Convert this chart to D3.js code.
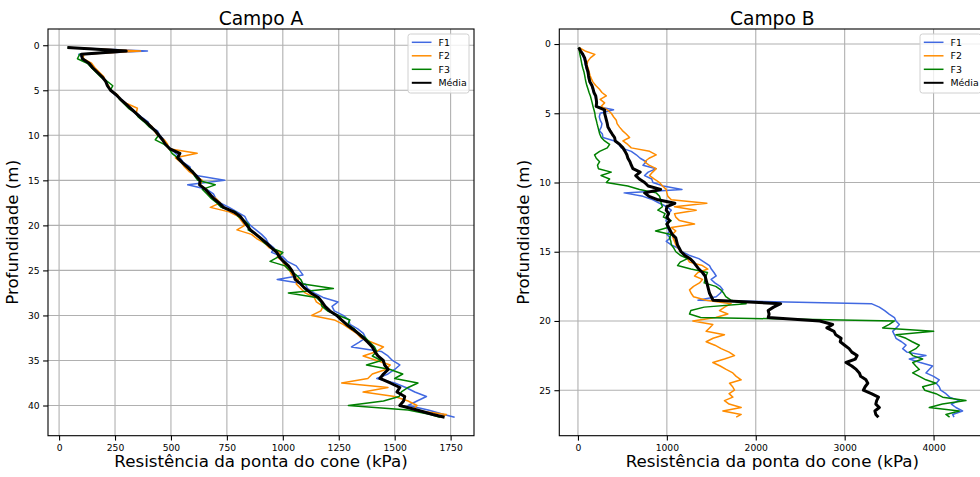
<!DOCTYPE html>
<html><head><meta charset="utf-8">
<script src="https://cdn.jsdelivr.net/npm/d3@7"></script>
<style>body{margin:0;background:#fff} svg{display:block} text{font-family:"DejaVu Sans",sans-serif;fill:#000}</style>
</head><body><svg id="c" width="980" height="477"></svg>
<script>
// ---------- Campo A ----------
const depthA = [
  0.25, 0.65, 1, 1.5, 2, 2.5, 3, 3.5, 4, 4.5,
  5, 5.5, 6, 6.5, 7, 7.5, 8, 8.5, 9, 9.5,
  10, 10.5, 11, 11.5, 12, 12.5, 13, 13.5, 14, 14.5,
  15, 15.5, 16, 16.5, 17, 17.5, 18, 18.5, 19, 19.5,
  20, 20.5, 21, 21.5, 22, 22.5, 23, 23.5, 24, 24.5,
  25, 25.5, 26, 26.5, 27, 27.5, 28, 28.5, 29, 29.5,
  30, 30.5, 31, 31.5, 32, 32.5, 33, 33.5, 34, 34.5,
  35, 35.5, 36, 36.5, 37, 37.5, 38, 38.5, 39, 39.5,
  40, 40.5, 41, 41.3];
const f1A = [
  40, 395, 88, 108, 138, 146, 175, 190, 212, 220,
  232, 250, 278, 300, 318, 345, 370, 398, 405, 440,
  450, 470, 472, 500, 520, 540, 555, 585, 590, 620,
  740, 575, 660, 690, 700, 720, 760, 795, 830, 840,
  855, 880, 905, 925, 935, 960, 950, 1000, 1020, 1060,
  1075, 1090, 975, 1100, 1110, 1140, 1180, 1247, 1220, 1230,
  1270, 1295, 1300, 1335, 1360, 1370, 1340, 1307, 1440, 1470,
  1490, 1523, 1500, 1470, 1420, 1500, 1550, 1590, 1642, 1600,
  1560, 1650, 1720, 1768];
const f2A = [
  42, 364, 110, 108, 145, 160, 180, 200, 205, 222,
  228, 262, 272, 305, 350, 345, 360, 385, 415, 425,
  440, 470, 485, 490, 617, 520, 545, 560, 580, 610,
  640, 630, 660, 665, 700, 720, 676, 760, 800, 815,
  830, 795, 860, 885, 920, 940, 990, 975, 1000, 1010,
  1030, 1040, 1070, 1060, 1080, 1100, 1140, 1150, 1180, 1170,
  1129, 1230, 1270, 1300, 1330, 1350, 1400, 1450, 1420, 1359,
  1420, 1480, 1460, 1400, 1380, 1263, 1470, 1359, 1500, 1560,
  1600, 1580, 1731, 1700];
const f3A = [
  38, 290, 92, 82, 126, 145, 165, 185, 215, 240,
  228, 258, 270, 290, 310, 340, 355, 380, 400, 428,
  445, 430, 470, 492, 505, 530, 548, 575, 598, 605,
  620, 698, 640, 660, 680, 705, 725, 790, 800, 830,
  850, 845, 880, 900, 920, 950, 1000, 980, 943, 1010,
  1030, 1060, 1080, 1090, 1226, 1025, 1150, 1170, 1175, 1200,
  1250, 1300, 1290, 1320, 1340, 1370, 1390, 1410, 1420, 1400,
  1440, 1374, 1480, 1536, 1500, 1604, 1560, 1530, 1520, 1450,
  1293, 1560, 1660, 1702];
const mediaA = [
  37, 300, 100, 104, 134, 150, 171, 192, 208, 216,
  230, 255, 275, 298, 320, 342, 364, 388, 409, 430,
  446, 462, 475, 495, 540, 530, 550, 572, 594, 612,
  630, 628, 654, 672, 690, 715, 735, 780, 810, 825,
  840, 855, 880, 905, 929, 950, 973, 985, 1003, 1025,
  1040, 1050, 1055, 1080, 1099, 1125, 1159, 1175, 1189, 1210,
  1241, 1262, 1285, 1312, 1337, 1360, 1381, 1400, 1411, 1425,
  1449, 1455, 1471, 1450, 1434, 1480, 1523, 1510, 1545, 1540,
  1523, 1600, 1671, 1723];
const xTicksA = [0, 250, 500, 750, 1000, 1250, 1500, 1750];
const yTicksA = [0, 5, 10, 15, 20, 25, 30, 35, 40];

// ---------- Campo B ----------
const depthB = [
  0.25, 0.5, 0.75, 1, 1.25, 1.5, 1.75, 2,
  2.25, 2.5, 2.75, 3, 3.25, 3.5, 3.75, 4,
  4.25, 4.5, 4.75, 5, 5.25, 5.5, 5.75, 6,
  6.25, 6.5, 6.75, 7, 7.25, 7.5, 7.75, 8,
  8.25, 8.5, 8.75, 9, 9.25, 9.5, 9.75, 10,
  10.25, 10.5, 10.75, 11, 11.25, 11.5, 11.75, 12,
  12.25, 12.5, 12.75, 13, 13.25, 13.5, 13.75, 14,
  14.25, 14.5, 14.75, 15, 15.25, 15.5, 15.75, 16,
  16.25, 16.5, 16.75, 17, 17.25, 17.5, 17.75, 18,
  18.25, 18.5, 18.75, 19, 19.25, 19.5, 19.75, 20,
  20.25, 20.5, 20.75, 21, 21.25, 21.5, 21.75, 22,
  22.25, 22.5, 22.75, 23, 23.25, 23.5, 23.75, 24,
  24.25, 24.5, 24.75, 25, 25.25, 25.5, 25.75, 26,
  26.25, 26.5, 26.75, 26.95];
const f1B = [
  8, 25, 45, 65, 75, 82, 95, 105,
  112, 120, 130, 150, 165, 175, 195, 200,
  215, 200, 400, 250, 240, 250, 270, 262,
  240, 275, 281, 412, 460, 487, 600, 656,
  700, 768, 731, 880, 790, 749, 830, 843,
  960, 1170, 520, 731, 843, 918, 1000, 1049,
  1020, 1000, 990, 1010, 1000, 1030, 1000, 1040,
  993, 1050, 1130, 1170, 1250, 1360, 1420, 1480,
  1500, 1530, 1555, 1498, 1540, 1600, 1630, 1600,
  1555, 1350, 3300, 3390, 3450, 3500, 3560, 3577,
  3615, 3580, 3540, 3560, 3577, 3640, 3690, 3652,
  3700, 3914, 3727, 3850, 3989, 3950, 3914, 4000,
  4064, 4030, 4064, 4080, 4139, 4180, 4289, 4200,
  4251, 4326, 4214, 4230];
const f2B = [
  10, 80, 190, 140, 110, 101, 115, 125,
  135, 150, 170, 200, 240, 270, 319, 250,
  300, 262, 330, 375, 400, 431, 440, 468,
  500, 543, 581, 506, 560, 600, 806, 880,
  800, 749, 800, 880, 840, 806, 860, 918,
  950, 993, 1000, 1011, 1050, 1450, 1086, 1330,
  1086, 1100, 1142, 1311, 1049, 1100, 1060, 1070,
  1086, 1100, 1130, 1161, 1200, 1230, 1255, 1400,
  1461, 1350, 1311, 1400, 1367, 1300, 1255, 1273,
  1300, 1442, 1723, 1650, 1592, 1686, 1550, 1292,
  1517, 1480, 1442, 1648, 1520, 1442, 1540, 1611,
  1700, 1761, 1648, 1517, 1600, 1667, 1742, 1780,
  1836, 1705, 1740, 1761, 1700, 1742, 1648, 1700,
  1836, 1630, 1836, 1780];
const f3B = [
  10, 15, 22, 30, 38, 45, 55, 67,
  75, 82, 90, 100, 113, 125, 140, 150,
  160, 169, 180, 190, 195, 206, 215, 225,
  235, 245, 262, 300, 356, 330, 244, 187,
  206, 244, 220, 230, 375, 260, 356, 319,
  560, 693, 880, 918, 930, 936, 950, 899,
  980, 961, 1049, 993, 1011, 873, 1045, 1030,
  1045, 1050, 1080, 1101, 1150, 1232, 1150, 1120,
  1270, 1457, 1440, 1430, 1420, 1550, 1607, 1640,
  1663, 1720, 1892, 1420, 1270, 1255, 1380, 3560,
  3502, 3427, 4000, 3577, 3690, 3760, 3840, 3800,
  3727, 3765, 3877, 3765, 3800, 3840, 3765, 3840,
  3914, 4027, 3877, 3900, 4027, 4102, 4364, 4100,
  3952, 4289, 4139, 4180];
const mediaB = [
  8, 30, 55, 75, 85, 92, 100, 113,
  118, 125, 135, 158, 170, 180, 200, 206,
  210, 205, 300, 300, 310, 320, 330, 337,
  360, 385, 412, 420, 470, 506, 530, 550,
  562, 585, 600, 618, 700, 650, 690, 750,
  790, 930, 750, 800, 900, 1090, 1000, 993,
  1020, 1000, 1030, 1000, 1020, 1040, 1060, 1100,
  1110, 1120, 1140, 1160, 1200, 1260, 1300, 1330,
  1360, 1400, 1430, 1440, 1450, 1460, 1470, 1480,
  1500, 1520, 2280, 2200, 2140, 2150, 2140, 2720,
  2865, 2800, 2880, 2900, 2960, 2950, 3000, 3050,
  3080, 3140, 3120, 3015, 3080, 3130, 3165, 3180,
  3240, 3260, 3230, 3210, 3300, 3380, 3360, 3350,
  3390, 3340, 3350, 3380];
const xTicksB = [0, 1000, 2000, 3000, 4000];
const yTicksB = [0, 5, 10, 15, 20, 25];

const seriesNames = ["F1", "F2", "F3", "Média"];
const seriesColors = ["#4169e1", "#ff8c00", "#008000", "#000000"];
const seriesWidths = [1.5, 1.5, 1.5, 3];
const panelTitles = ["Campo A", "Campo B"];
const xLabel = "Resistência da ponta do cone (kPa)";
const yLabel = "Profundidade (m)";

const svg = d3.select("#c");
svg.append("rect").attr("width", 980).attr("height", 477).attr("fill", "#fff");

const AX_W = 426, AX_TOP = 29, AX_BOT = 435.7;

function padded(ext) { const s = ext[1] - ext[0]; return [ext[0] - 0.05 * s, ext[1] + 0.05 * s]; }

function panel(idx, x0, depth, series, xTicks, yTicks, legendX) {
  const all = series.flat();
  const x = d3.scaleLinear().domain(padded(d3.extent(all))).range([x0, x0 + AX_W]);
  const y = d3.scaleLinear().domain(padded(d3.extent(depth))).range([AX_TOP, AX_BOT]);
  const g = svg.append("g");
  const clipId = "clip" + idx;
  svg.append("clipPath").attr("id", clipId).append("rect")
    .attr("x", x0).attr("y", AX_TOP).attr("width", AX_W).attr("height", AX_BOT - AX_TOP);

  // grid
  const grid = g.append("g").attr("stroke", "#b0b0b0").attr("stroke-width", 1.1);
  xTicks.forEach(t => grid.append("line").attr("x1", x(t)).attr("x2", x(t)).attr("y1", AX_TOP).attr("y2", AX_BOT));
  yTicks.forEach(t => grid.append("line").attr("y1", y(t)).attr("y2", y(t)).attr("x1", x0).attr("x2", x0 + AX_W));

  // lines
  const lg = g.append("g").attr("clip-path", `url(#${clipId})`);
  series.forEach((vals, i) => {
    const pts = depth.map((d, k) => [vals[k], d]).filter(p => p[0] != null);
    lg.append("path").datum(pts)
      .attr("fill", "none").attr("stroke", seriesColors[i]).attr("stroke-width", seriesWidths[i])
      .attr("stroke-linejoin", "round")
      .attr("d", d3.line().x(p => x(p[0])).y(p => y(p[1])));
  });

  // axes
  const xa = g.append("g").attr("transform", `translate(0,${AX_BOT})`)
    .call(d3.axisBottom(x).tickValues(xTicks).tickSize(4.9).tickPadding(3.5).tickFormat(d3.format("d")));
  const ya = g.append("g").attr("transform", `translate(${x0},0)`)
    .call(d3.axisLeft(y).tickValues(yTicks).tickSize(4.9).tickPadding(3.5).tickFormat(d3.format("d")));
  [xa, ya].forEach(a => {
    a.select(".domain").remove();
    a.selectAll("line").attr("stroke", "#000").attr("stroke-width", 1.1);
    a.selectAll("text").attr("font-size", 9.2).attr("font-family", "DejaVu Sans").attr("fill", "#222");
  });

  // spines
  g.append("rect").attr("x", x0).attr("y", AX_TOP).attr("width", AX_W).attr("height", AX_BOT - AX_TOP)
    .attr("fill", "none").attr("stroke", "#000").attr("stroke-width", 1.1);

  // title & labels
  g.append("text").attr("x", x0 + AX_W / 2).attr("y", 25).attr("text-anchor", "middle")
    .attr("font-size", 18.7).text(panelTitles[idx]);
  g.append("text").attr("x", x0 + AX_W / 2).attr("y", 467).attr("text-anchor", "middle")
    .attr("font-size", 16.7).text(xLabel);
  g.append("text").attr("transform", `translate(${x0 - 30.5},${(AX_TOP + AX_BOT) / 2}) rotate(-90)`)
    .attr("text-anchor", "middle").attr("font-size", 16.7).text(yLabel);

  // legend
  const lgd = g.append("g").attr("transform", `translate(${legendX},34)`);
  lgd.append("rect").attr("width", 61).attr("height", 59).attr("rx", 2.5)
    .attr("fill", "#fff").attr("fill-opacity", 0.8).attr("stroke", "#d0d0d0").attr("stroke-width", 1);
  seriesNames.forEach((n, i) => {
    const yy = 8.3 + i * 13.5;
    lgd.append("line").attr("x1", 3.8).attr("x2", 23.5).attr("y1", yy).attr("y2", yy)
      .attr("stroke", seriesColors[i]).attr("stroke-width", i === 3 ? 2 : 1.5);
    lgd.append("text").attr("x", 30.5).attr("y", yy).attr("dy", "0.35em")
      .attr("font-size", 9.4).text(n);
  });
}

panel(0, 48, depthA, [f1A, f2A, f3A, mediaA], xTicksA, yTicksA, 408);
panel(1, 559.3, depthB, [f1B, f2B, f3B, mediaB], xTicksB, yTicksB, 920);
</script></body></html>
